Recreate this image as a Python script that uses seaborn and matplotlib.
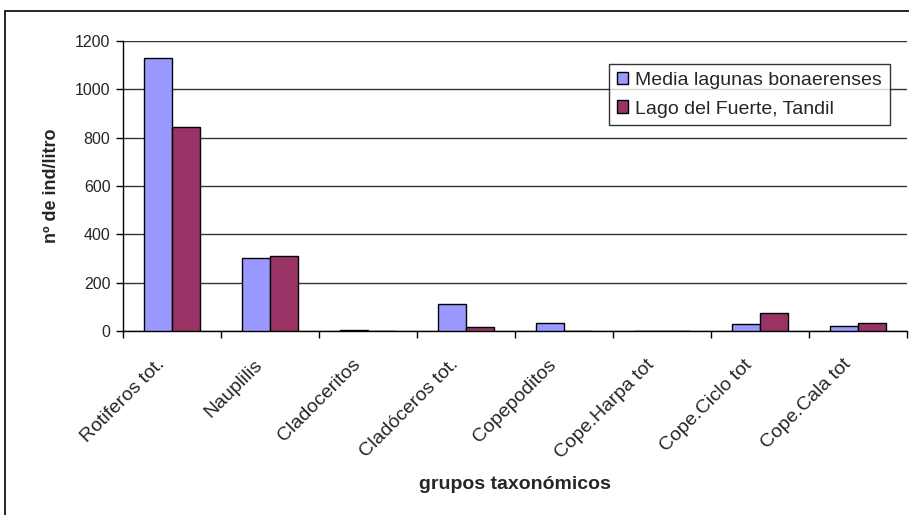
import matplotlib
matplotlib.use("Agg")
import matplotlib.pyplot as plt
from matplotlib.patches import Rectangle
from matplotlib.transforms import ScaledTranslation
import seaborn as sns
import pandas as pd

# Zooplankton densities by taxonomic group
grupos = ["Rotiferos tot.", "Nauplilis", "Cladoceritos", "Cladóceros tot.",
          "Copepoditos", "Cope.Harpa tot", "Cope.Ciclo tot", "Cope.Cala tot"]
media_lagunas = [1128, 303, 4, 113, 33, 0, 28, 22]
lago_fuerte = [845, 309, 0, 17, 0, 0, 73, 33]
series = ["Media lagunas bonaerenses", "Lago del Fuerte, Tandil"]
colores = ["#9999FF", "#993366"]
y_ticks = [0, 200, 400, 600, 800, 1000, 1200]

df = pd.DataFrame({
    "grupo": grupos * 2,
    "valor": media_lagunas + lago_fuerte,
    "serie": [series[0]] * len(grupos) + [series[1]] * len(grupos),
})

sns.set_theme(style="white")
plt.rcParams["font.family"] = ["Liberation Sans", "DejaVu Sans"]

fig = plt.figure(figsize=(9.09, 5.15), dpi=100)
ax = fig.add_axes([123 / 909, 1 - 331 / 515, (907 - 123) / 909, 290 / 515])

sns.barplot(data=df, x="grupo", y="valor", hue="serie", order=grupos,
            hue_order=series, palette=colores, width=0.58, gap=0,
            edgecolor="black", linewidth=1, saturation=1, ax=ax, zorder=3)

ax.set_xlim(-0.5, len(grupos) - 0.5)
ax.set_ylim(0, 1200)
ax.set_yticks(y_ticks)
ax.set_yticklabels([str(t) for t in y_ticks], fontsize=11.5)
ax.yaxis.grid(True, color="#333333", linewidth=1)
ax.set_axisbelow(True)

# Category ticks sit on the group boundaries
ax.set_xticks([i - 0.5 for i in range(len(grupos) + 1)], minor=False)
ax.set_xticklabels([""] * (len(grupos) + 1))
ax.tick_params(axis="x", which="major", direction="out", length=5, width=1,
               color="black", bottom=True)
ax.tick_params(axis="y", direction="out", length=5, width=1, color="black",
               left=True, pad=4)
ax.set_xticks(range(len(grupos)), minor=True)
ax.set_xticklabels(grupos, minor=True, rotation=45, ha="right", va="center",
                   rotation_mode="anchor", fontsize=14)
ax.tick_params(axis="x", which="minor", length=0, pad=0)
shift = ScaledTranslation(-0.10, -0.31, fig.dpi_scale_trans)
for lbl in ax.get_xticklabels(minor=True):
    lbl.set_transform(lbl.get_transform() + shift)

for side in ["top", "right"]:
    ax.spines[side].set_visible(False)
for side in ["left", "bottom"]:
    ax.spines[side].set_color("black")
    ax.spines[side].set_linewidth(1)

ax.set_xlabel("grupos taxonómicos", fontsize=14, fontweight="bold")
ax.set_ylabel("nº de ind/litro", fontsize=13, fontweight="bold")
ax.xaxis.set_label_coords(0.5, -0.50)
ax.yaxis.set_label_coords(-0.080, 0.5)

leg = ax.legend(loc="upper left", bbox_to_anchor=((609 - 123) / 784, 1 - (64 - 41) / 290),
                frameon=True, fontsize=14, fancybox=False, borderpad=0.4,
                handlelength=0.6, handleheight=0.6, handletextpad=0.35,
                labelspacing=0.6, borderaxespad=0)
leg.get_frame().set_edgecolor("black")
leg.get_frame().set_linewidth(1)
for h in leg.legend_handles:
    h.set_edgecolor("black")

# Chart area border
fig.patches.append(Rectangle((5 / 909, -0.1), 1.2, 1.1 - 11 / 515,
                             transform=fig.transFigure, fill=False,
                             edgecolor="black", linewidth=1.2))

fig.savefig("out.png", dpi=100)
